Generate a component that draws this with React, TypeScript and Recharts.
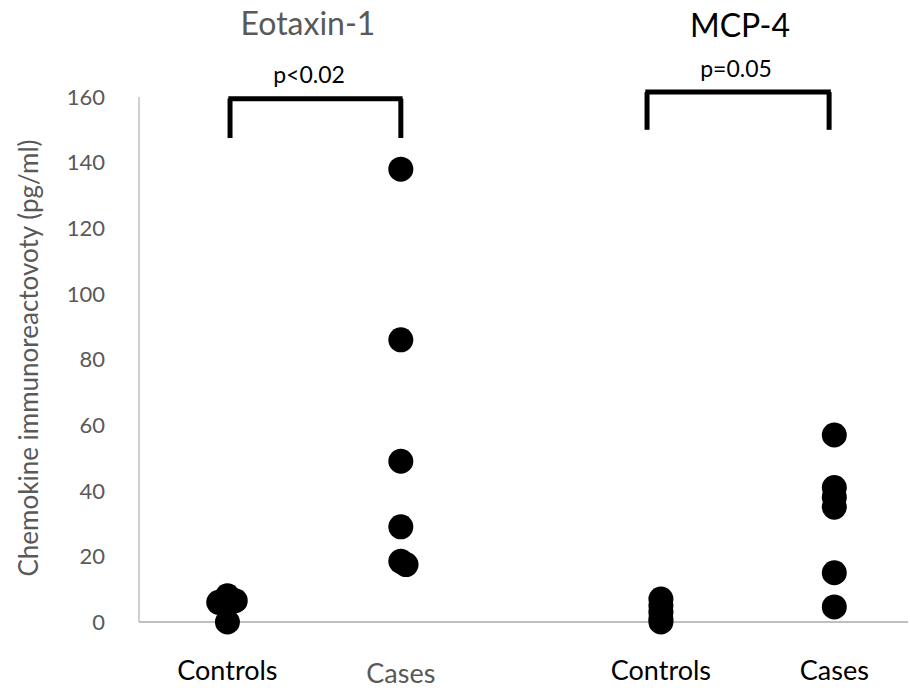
import React from "react";
import {
  ScatterChart,
  Scatter,
  XAxis,
  YAxis,
  ReferenceLine,
} from "recharts";

// group positions on the x axis and their labels
const groupX = [1, 3, 6, 8];
const groupLabels = ["Controls", "Cases", "Controls", "Cases"];
const groupLabelColors = ["#000000", "#595959", "#000000", "#000000"];

// chemokine values (pg/ml), with small x jitter
const eotaxinControls = [6, 8, 6.5, 0];
const eotaxinControlsJitter = [-0.1, 0, 0.09, 0];
const eotaxinCases = [138, 86, 49, 29, 18.5, 17.5];
const eotaxinCasesJitter = [0, 0, 0, 0, 0, 0.06];
const mcpControls = [7, 5, 3, 1, 0];
const mcpCases = [57, 41, 38, 35, 15, 4.6];

const yTicks = [0, 20, 40, 60, 80, 100, 120, 140, 160];

// significance brackets: [left x, right x, top y, leg bottom y]
const brackets = [
  { x1: 1.03, x2: 3.0, top: 159.5, bottom: 147.5 },
  { x1: 5.84, x2: 7.94, top: 161.5, bottom: 150 },
];

const toPoints = (x: number, values: number[], jitter?: number[]) =>
  values.map((v, i) => ({ x: x + (jitter ? jitter[i] : 0), y: v }));

const Dot = (props: any) => (
  <circle cx={props.cx} cy={props.cy} r={12.5} fill="#000" />
);

const XTick = (props: any) => {
  const { x, y, index } = props;
  const gray = groupLabelColors[index] !== "#000000";
  return (
    <text
      x={x}
      y={y + (gray ? 53 : 50)}
      textAnchor="middle"
      fill={groupLabelColors[index]}
      fontSize={27}
      fontFamily="Lato, sans-serif"
    >
      {groupLabels[index]}
    </text>
  );
};

export default function App() {
  const font = "Lato, sans-serif";
  return (
    <div style={{ position: "absolute", left: 0, top: 0, width: 910, height: 690, background: "#fff" }}>
      <ScatterChart width={910} height={690} margin={{ top: 97, right: 2, bottom: 0, left: 0 }}>
        <XAxis
          type="number"
          dataKey="x"
          domain={[-0.02, 8.85]}
          ticks={groupX}
          tick={<XTick />}
          tickLine={false}
          axisLine={{ stroke: "#bfbfbf", strokeWidth: 2 }}
          height={68}
          allowDataOverflow
        />
        <YAxis
          type="number"
          dataKey="y"
          domain={[0, 160]}
          ticks={yTicks}
          width={139}
          tickLine={false}
          tickSize={0}
          tickMargin={34}
          axisLine={{ stroke: "#bfbfbf", strokeWidth: 1.5 }}
          tick={{ fill: "#595959", fontSize: 22, fontFamily: font }}
        />
        {brackets.map((b, i) => (
          <ReferenceLine
            key={`t${i}`}
            segment={[{ x: b.x1 - 0.02, y: b.top }, { x: b.x2 + 0.02, y: b.top }]}
            stroke="#000"
            strokeWidth={5}
            ifOverflow="visible"
          />
        ))}
        {brackets.map((b, i) => (
          <ReferenceLine
            key={`l${i}`}
            segment={[{ x: b.x1, y: b.top }, { x: b.x1, y: b.bottom }]}
            stroke="#000"
            strokeWidth={5}
            ifOverflow="visible"
          />
        ))}
        {brackets.map((b, i) => (
          <ReferenceLine
            key={`r${i}`}
            segment={[{ x: b.x2, y: b.top }, { x: b.x2, y: b.bottom }]}
            stroke="#000"
            strokeWidth={5}
            ifOverflow="visible"
          />
        ))}
        <Scatter data={toPoints(groupX[0], eotaxinControls, eotaxinControlsJitter)} shape={<Dot />} isAnimationActive={false} />
        <Scatter data={toPoints(groupX[1], eotaxinCases, eotaxinCasesJitter)} shape={<Dot />} isAnimationActive={false} />
        <Scatter data={toPoints(groupX[2], mcpControls)} shape={<Dot />} isAnimationActive={false} />
        <Scatter data={toPoints(groupX[3], mcpCases)} shape={<Dot />} isAnimationActive={false} />
      </ScatterChart>
      <svg width={910} height={690} style={{ position: "absolute", left: 0, top: 0, pointerEvents: "none" }}>
        <text x={308} y={35} textAnchor="middle" fontSize={32} fill="#595959" fontFamily={font}>
          Eotaxin-1
        </text>
        <text x={740} y={37} textAnchor="middle" fontSize={32} fill="#000" fontFamily={font}>
          MCP-4
        </text>
        <text x={309} y={83} textAnchor="middle" fontSize={23} fill="#000" fontFamily={font}>
          p&lt;0.02
        </text>
        <text x={736} y={77} textAnchor="middle" fontSize={23} fill="#000" fontFamily={font}>
          p=0.05
        </text>
        <text
          x={38}
          y={358}
          transform="rotate(-90 38 358)"
          textAnchor="middle"
          fontSize={26}
          fill="#595959"
          fontFamily={font}
        >
          Chemokine immunoreactovoty (pg/ml)
        </text>
      </svg>
    </div>
  );
}
